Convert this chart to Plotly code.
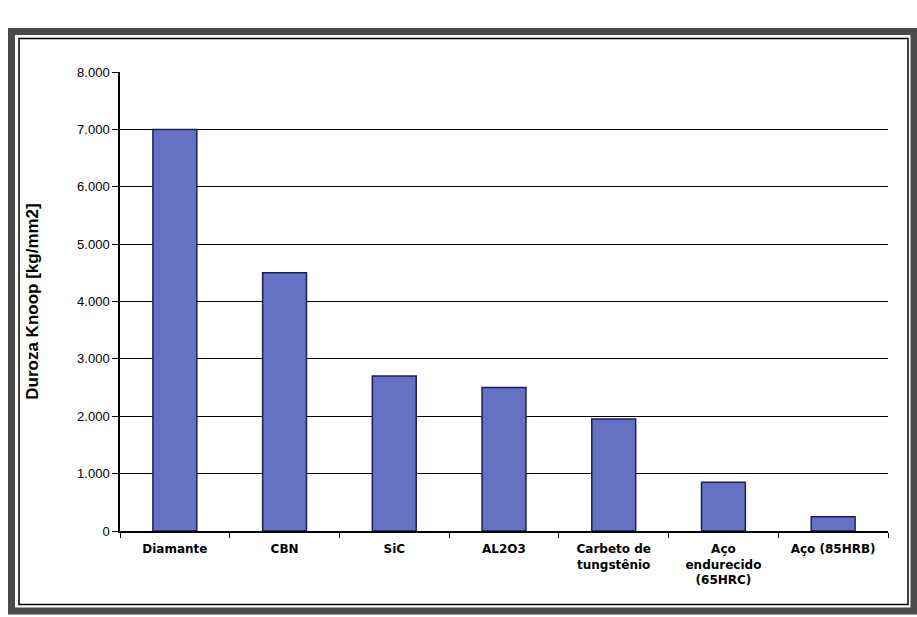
import plotly.graph_objects as go

categories = ["Diamante", "CBN", "SiC", "AL2O3", "Carbeto de<br>tungstênio",
              "Aço<br>endurecido<br>(65HRC)", "Aço (85HRB)"]
values = [7000, 4500, 2700, 2500, 1950, 850, 250]
y_ticks = [0, 1000, 2000, 3000, 4000, 5000, 6000, 7000, 8000]
y_title = "Duroza Knoop [kg/mm2]"

W, H = 917, 617
L, R, T, B = 120, 888, 72, 531

def px(x):
    return (x - L) / (R - L)

def py(y):
    return (B - y) / (B - T)

fig = go.Figure(go.Bar(
    x=categories, y=values,
    marker=dict(color="#6571c2", line=dict(color="#1c1f55", width=1.5)),
    width=0.4,
))

fig.update_layout(
    width=W, height=H,
    margin=dict(l=L, r=W - R, t=T, b=H - B),
    paper_bgcolor="white", plot_bgcolor="white",
    separators=",.",
    showlegend=False,
    font=dict(family="Liberation Sans, Arial, sans-serif", color="black"),
    shapes=[
        dict(type="rect", xref="paper", yref="paper",
             x0=px(11.5), x1=px(914), y0=py(31.5), y1=py(611),
             line=dict(color="#4a4a4a", width=7), layer="above"),
        dict(type="rect", xref="paper", yref="paper",
             x0=px(19), x1=px(908), y0=py(38.5), y1=py(604.5),
             line=dict(color="black", width=1.5), layer="above"),
    ],
)

fig.update_yaxes(
    range=[0, 8000], tickvals=y_ticks, tickformat=",d",
    showgrid=True, gridcolor="black", gridwidth=1.2,
    showline=True, linecolor="black", linewidth=1.5,
    ticks="outside", ticklen=6, tickcolor="black",
    tickfont=dict(size=13, family="Liberation Sans Narrow, Liberation Sans, Arial"),
    title=dict(text="<b>" + y_title + "</b>", font=dict(size=17), standoff=34),
    zeroline=False,
)
fig.update_xaxes(
    showline=True, linecolor="black", linewidth=1.5,
    ticks="outside", ticklen=5, tickcolor="black", tickson="boundaries",
    tickfont=dict(size=12, family="DejaVu Sans, Liberation Sans, Arial"),
    tickangle=0, ticklabelstandoff=6,
    tickvals=categories,
    ticktext=["<b>" + c + "</b>" for c in categories],
)

fig.write_html("out.html")
